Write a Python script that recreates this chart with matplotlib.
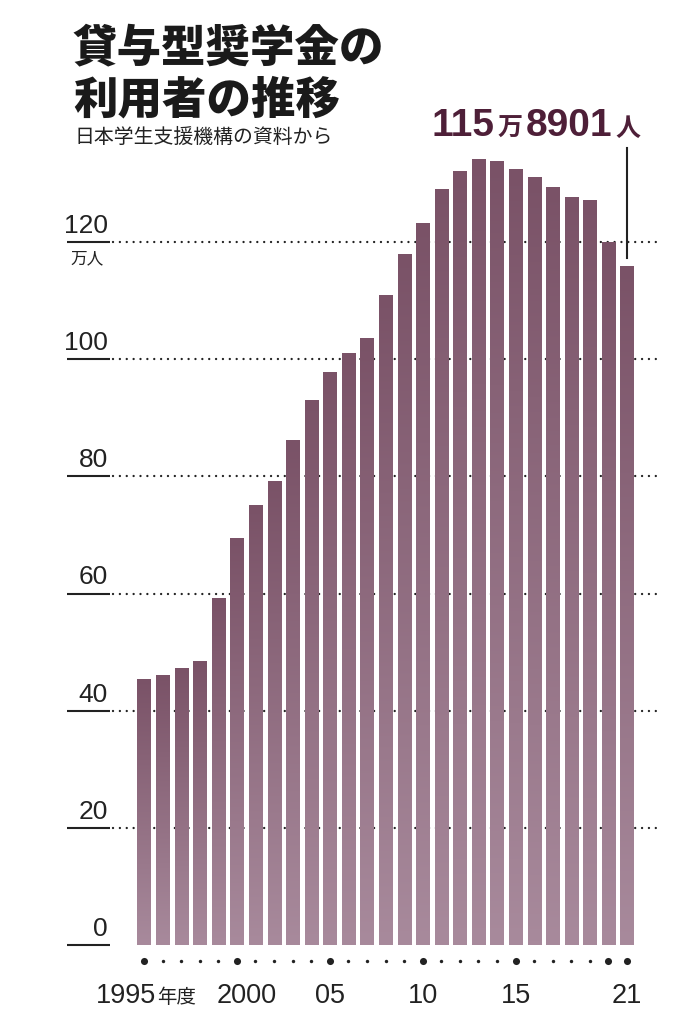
import numpy as np
import matplotlib.pyplot as plt
from matplotlib.colors import LinearSegmentedColormap

# data (10k persons)
years = list(range(1995, 2022))
users = [45.4, 46.0, 47.2, 48.4, 59.1, 69.4, 75.0, 79.1, 86.2, 92.9,
         97.7, 100.9, 103.5, 110.8, 117.8, 123.1, 129.0, 132.0, 134.0, 133.7,
         132.4, 131.0, 129.3, 127.6, 127.1, 119.95, 115.89]
yticks = [0, 20, 40, 60, 80, 100, 120]
xlabels = {1995: '1995', 2000: '2000', 2005: '05', 2010: '10', 2015: '15', 2021: '21'}
big_dots = [1995, 2000, 2005, 2010, 2015, 2020, 2021]

W, H = 689, 1024
num = ['Liberation Sans', 'DejaVu Sans']
jp = ['Noto Sans CJK JP', 'DejaVu Sans']
dark = '#7a5267'
light = '#a88a9c'
cmap = LinearSegmentedColormap.from_list('bar', [light, dark])

fig = plt.figure(figsize=(W/100, H/100), dpi=100)
ax = fig.add_axes([0, 0, 1, 1])
ax.axis('off')

# pixel layout: 1995 -> x=144, 2021 -> x=627, 0 -> y=945, 120 -> y=242
step = (627-144)/26
ppu = (945-242)/120
xl = (1995-144/step, 2021+(W-627)/step)
yl = (-(H-945)/ppu, 945/ppu)

grad = np.linspace(0, 1, 256).reshape(-1, 1)
bw = 0.70
for x, v in zip(years, users):
    ax.imshow(grad, extent=[x-bw/2, x+bw/2, 0, v], origin='lower', cmap=cmap,
              aspect='auto', interpolation='bilinear', zorder=3)

ytr = ax.get_yaxis_transform()
for t in yticks:
    ax.plot([67/W, 110/W], [t, t], color='#222222', lw=1.5, transform=ytr,
            solid_capstyle='butt', zorder=2)
    if t > 0:
        ax.plot([113/W, 660/W], [t, t], color='#222222', lw=1.7, transform=ytr,
                linestyle=(0, (0.01, 2.9)), dash_capstyle='round', zorder=1)
    ax.annotate(str(t), (108/W, t), xycoords=ytr, xytext=(0, 6.5),
                textcoords='offset points', ha='right', va='baseline',
                fontsize=19, family=num, color='#222222')
ax.text(70/W, 120-8/ppu, '万人', transform=ytr, ha='left', va='top', fontsize=12,
        family=jp, color='#222222')

# x axis dots and labels
dy = -(961-945)/ppu
for x in years:
    big = x in big_dots
    ax.scatter(x, dy, s=26 if big else 6, color='#222222', zorder=4, linewidths=0)
ly = -(1003-945)/ppu
for x, s in xlabels.items():
    off = 0.55 if x == 2000 else 0
    if x == 1995:
        ax.text(x+0.65, ly, s, ha='right', va='baseline', fontsize=19.5, family=num, color='#222222')
        ax.text(x+0.72, ly, '年度', ha='left', va='baseline', fontsize=14, family=jp, color='#222222')
    else:
        ax.text(x+off, ly, s, ha='center', va='baseline', fontsize=19.5, family=num, color='#222222')

# annotation of the last value
ax.plot([2021, 2021], [users[-1]+1.3, (945-148)/ppu], color='#222222', lw=1.5, zorder=4)

ax.set_xlim(xl)
ax.set_ylim(yl)

# title
fig.text(73/W, 1-48/H, '貸与型奨学金の', ha='left', va='center', fontsize=32,
         family=jp, weight='heavy', color='#1a1a1a')
fig.text(73/W, 1-100/H, '利用者の推移', ha='left', va='center', fontsize=32,
         family=jp, weight='heavy', color='#1a1a1a')
fig.text(75/W, 1-137/H, '日本学生支援機構の資料から', ha='left', va='center', fontsize=14.3,
         family=jp, color='#222222')

# big number: 115万8901人, right edge at x=640
acol = '#4e1f38'
parts = [('115', num, 28, 'bold'), ('万', jp, 18, 'bold'), ('8901', num, 28, 'bold'), ('人', jp, 18, 'bold')]
fig.canvas.draw()
r = fig.canvas.get_renderer()
texts = []
for s, fam, fs, wt in parts:
    t = fig.text(0, 1-136/H, s, ha='left', va='baseline', fontsize=fs, family=fam,
                 weight=wt, color=acol)
    texts.append(t)
widths = [t.get_window_extent(renderer=r).width for t in texts]
gap = 3
xpos = 640 - sum(widths) - gap*(len(widths)-1)
for t, w in zip(texts, widths):
    t.set_x(xpos/W)
    xpos += w + gap

fig.savefig('out.png', dpi=100)
